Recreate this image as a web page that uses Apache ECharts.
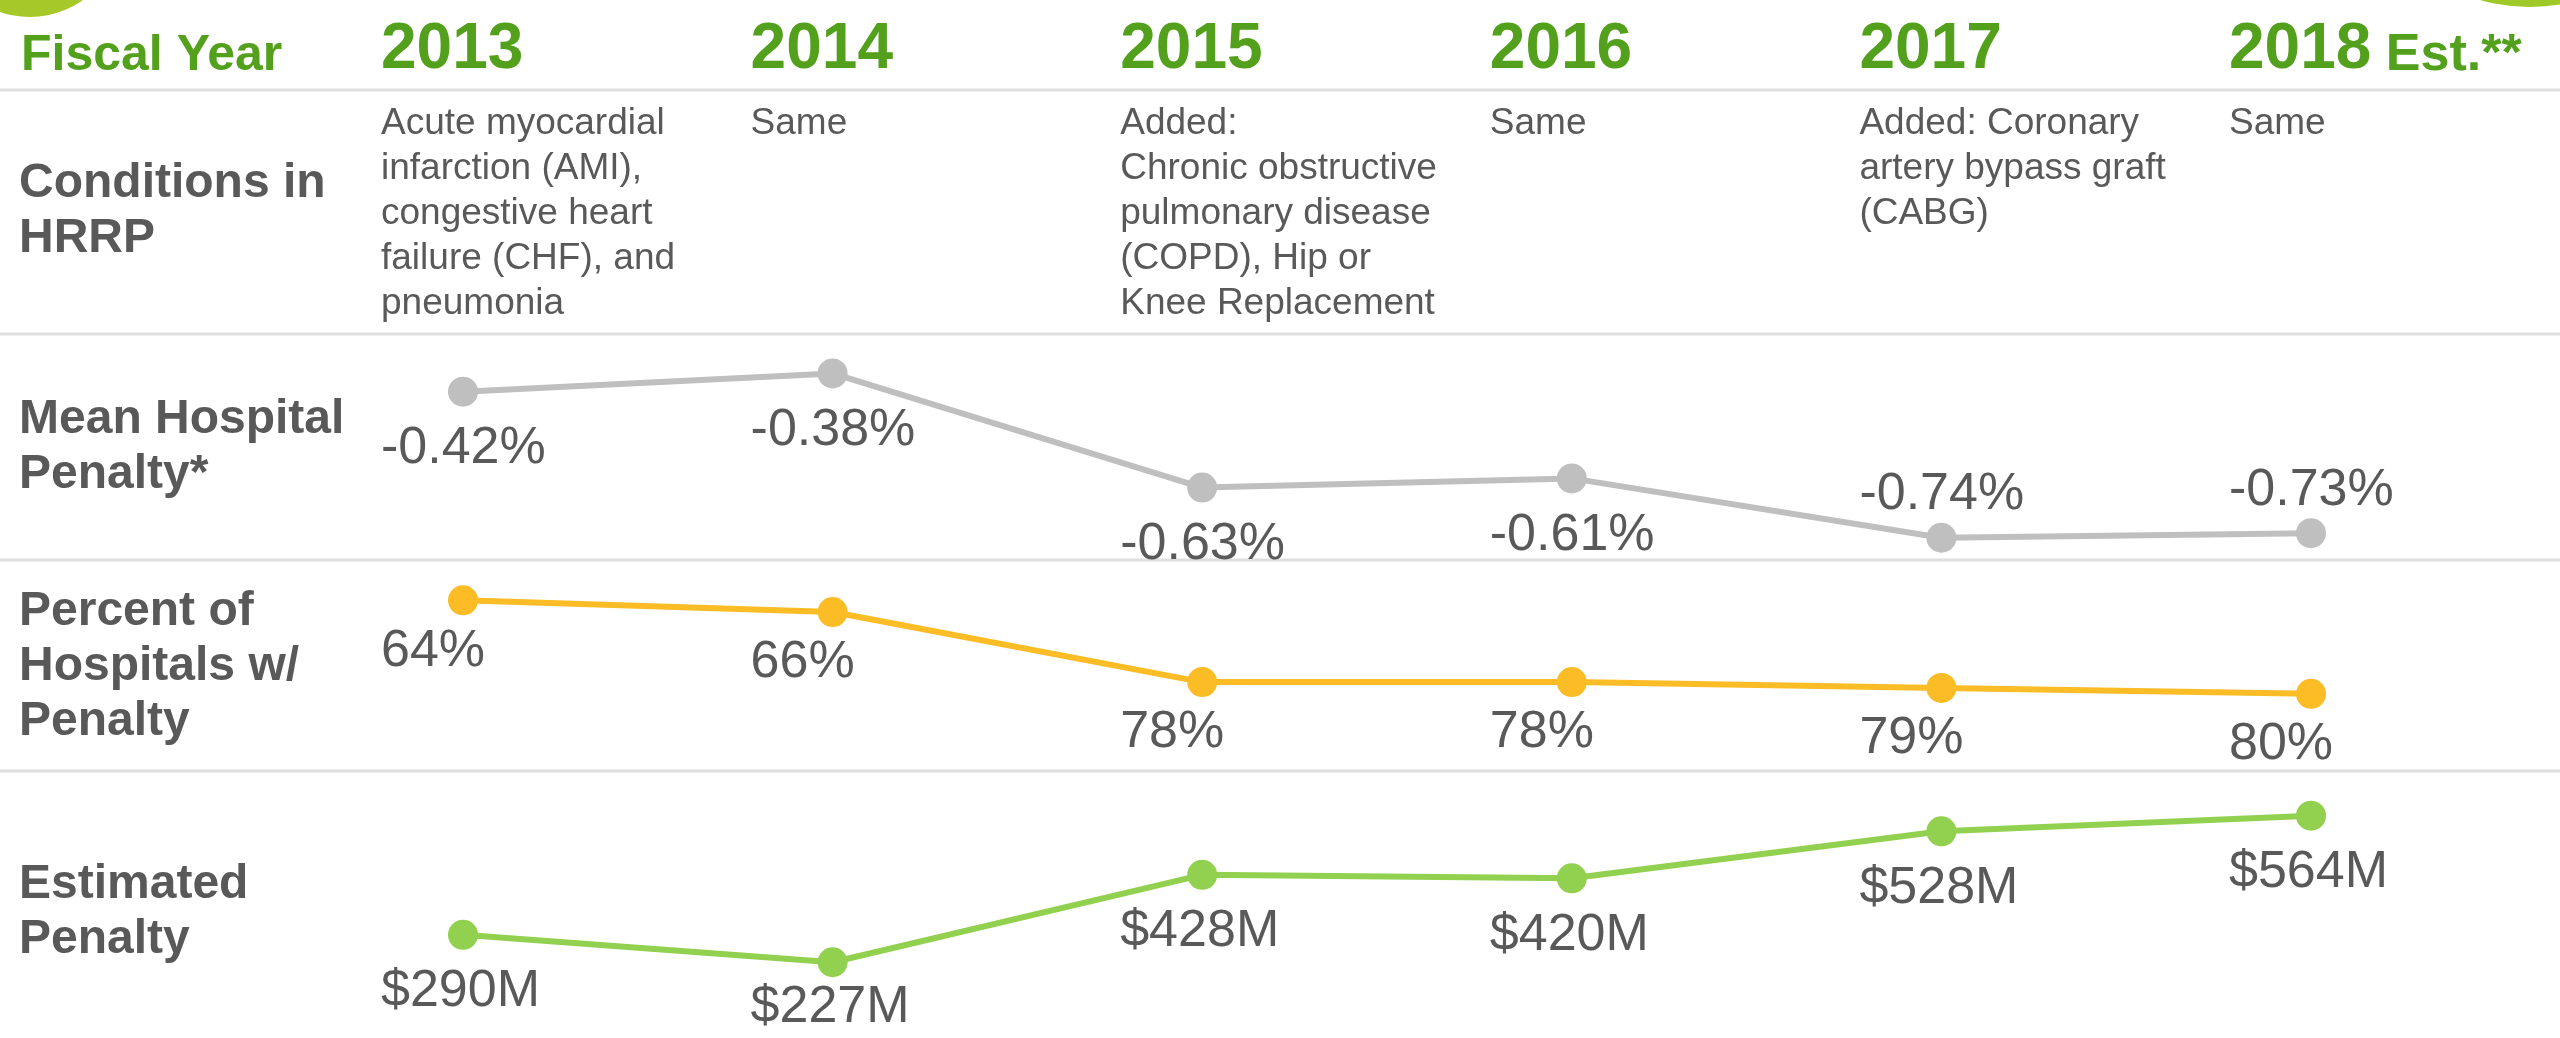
<!DOCTYPE html>
<html>
<head>
<meta charset="utf-8">
<script src="https://cdn.jsdelivr.net/npm/echarts@6/dist/echarts.min.js"></script>
<style>
html,body{margin:0;padding:0;background:#fff;}
#chart{width:2560px;height:1038px;}
</style>
</head>
<body>
<div id="chart"></div>
<script>
// ---- data ----
var fiscalYears = ["2013", "2014", "2015", "2016", "2017", "2018"];
var yearSuffix = ["", "", "", "", "", "Est.**"];
var conditions = [
  "Acute myocardial\ninfarction (AMI),\ncongestive heart\nfailure (CHF), and\npneumonia",
  "Same",
  "Added:\nChronic obstructive\npulmonary disease\n(COPD), Hip or\nKnee Replacement",
  "Same",
  "Added: Coronary\nartery bypass graft\n(CABG)",
  "Same"
];
var rowTitles = ["Conditions in\nHRRP", "Mean Hospital\nPenalty*", "Percent of\nHospitals w/\nPenalty", "Estimated\nPenalty"];
var meanPenalty = [-0.42, -0.38, -0.63, -0.61, -0.74, -0.73];
var pctHospitals = [64, 66, 78, 78, 79, 80];
var estPenalty = [290, 227, 428, 420, 528, 564];

// ---- chart ----
var chart = echarts.init(document.getElementById('chart'), null, {renderer: 'canvas'});
var FONT = 'Liberation Sans';
var TXT = '#595959';
var GREEN_T = '#52a01c';
var TEXT_SHIFT = -82;

var gridL = 463, gridR = 249;
function xAxisFor(i) {
  return {type: 'category', gridIndex: i, data: fiscalYears, boundaryGap: false, show: false};
}
function valueLabel(fmt, extra) {
  return Object.assign({
    show: true, position: 'bottom', distance: 10, align: 'left', offset: [TEXT_SHIFT, 0],
    fontFamily: FONT, fontSize: 52, color: TXT, formatter: function (p) { return fmt(p.value); }
  }, extra || {});
}
function lineSeries(idx, data, color, labelFn, itemLabel) {
  return {
    type: 'line', xAxisIndex: idx, yAxisIndex: idx,
    data: data.map(function (v, i) { return itemLabel ? {value: v, label: itemLabel(i)} : v; }),
    symbol: 'circle', symbolSize: 30, clip: false,
    lineStyle: {color: color, width: 6},
    itemStyle: {color: color},
    label: valueLabel(labelFn),
    emphasis: {disabled: true}
  };
}

var option = {
  animation: false,
  backgroundColor: '#ffffff',
  grid: [
    {left: gridL, right: gridR, top: 346, height: 210},
    {left: gridL, right: gridR, top: 577, height: 146},
    {left: gridL, right: gridR, top: 800, height: 174}
  ],
  xAxis: [xAxisFor(0), xAxisFor(1), xAxisFor(2)],
  yAxis: [
    {type: 'value', gridIndex: 0, min: -0.78, max: -0.32, show: false, splitLine: {show: false}},
    {type: 'value', gridIndex: 1, min: 60, max: 85, inverse: true, show: false, splitLine: {show: false}},
    {type: 'value', gridIndex: 2, min: 200, max: 600, show: false, splitLine: {show: false}}
  ],
  series: [
    lineSeries(0, meanPenalty, '#bfbfbf', function (v) { return v.toFixed(2) + '%'; },
      function (i) { return i >= 4 ? {position: 'top', distance: 2} : {distance: 16}; }),
    lineSeries(1, pctHospitals, '#fbbc26', function (v) { return v + '%'; }),
    lineSeries(2, estPenalty, '#92d050', function (v) { return '$' + v + 'M'; },
      function (i) { return {distance: i === 1 ? 4 : 16}; })
  ]
};
chart.setOption(option);

// ---- graphics positioned from the category axis ----
var g = [];
// decorative corner circles
g.push({type: 'circle', shape: {cx: 30, cy: -74, r: 91}, style: {fill: '#a6c929'}, z: 1});
g.push({type: 'circle', shape: {cx: 2530, cy: -175, r: 182}, style: {fill: '#9fc927'}, z: 1});
// separators
[90, 334, 560, 771].forEach(function (y) {
  g.push({type: 'line', shape: {x1: 0, y1: y, x2: 2560, y2: y}, style: {stroke: '#dedede', lineWidth: 3}, z: 1});
});
// Fiscal Year heading
g.push({type: 'text', x: 21, y: 56, style: {text: 'Fiscal Year', fontFamily: FONT, fontSize: 50, fontWeight: 'bold', fill: GREEN_T, verticalAlign: 'middle', align: 'left'}, z: 5});
// row titles
var rowCenters = [211, 447, 667, 912];
rowTitles.forEach(function (t, i) {
  g.push({type: 'text', x: 19, y: rowCenters[i], style: {text: t, fontFamily: FONT, fontSize: 48, fontWeight: 'bold', lineHeight: 55, fill: TXT, verticalAlign: 'middle', align: 'left'}, z: 5});
});
fiscalYears.forEach(function (yr, i) {
  var px = chart.convertToPixel({xAxisIndex: 0}, yr) + TEXT_SHIFT;
  var txt = yearSuffix[i] ? '{a|' + yr + '}{b| ' + yearSuffix[i] + '}' : '{a|' + yr + '}';
  g.push({type: 'text', x: px, y: 50, style: {
    text: txt, align: 'left', verticalAlign: 'middle',
    rich: {
      a: {fontFamily: FONT, fontSize: 64, fontWeight: 'bold', fill: GREEN_T, verticalAlign: 'bottom'},
      b: {fontFamily: FONT, fontSize: 52, fontWeight: 'bold', fill: GREEN_T, verticalAlign: 'bottom'}
    }
  }, z: 5});
  g.push({type: 'text', x: px, y: 101, style: {
    text: conditions[i], fontFamily: FONT, fontSize: 37, lineHeight: 45, fill: TXT, align: 'left', verticalAlign: 'top'
  }, z: 5});
});
chart.setOption({graphic: g});
</script>
</body>
</html>
